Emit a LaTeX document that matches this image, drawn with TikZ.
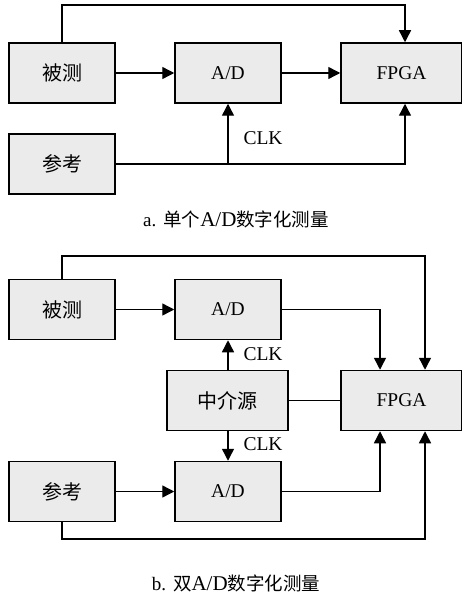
\documentclass[tikz,border=0pt]{standalone}
\usepackage{fontspec}
\setmainfont{Liberation Serif}
\newfontfamily\cjk{Noto Sans CJK SC}
\usetikzlibrary{arrows.meta}
\definecolor{boxgray}{HTML}{EBEBEB}
\newcommand\zh[1]{{\cjk\fontsize{20}{20}\selectfont #1}}
\newcommand\zhcap[1]{{\cjk\fontsize{18.5}{18.5}\selectfont #1}}
\newcommand\tag[1]{{\fontsize{19}{19}\selectfont #1}\hspace{7pt}}
\tikzset{
  blk/.style={draw, fill=boxgray, line width=1.5pt, inner sep=0pt,
    minimum width=106pt, minimum height=60pt,
    font=\fontsize{19.5}{19.5}\selectfont},
  wide/.style={blk, minimum width=121pt},
  wire/.style={line width=1.4pt},
  arr/.style={wire, -{Triangle[length=12pt,width=12pt]}},
  lbl/.style={font=\fontsize{19.5}{19.5}\selectfont, inner sep=0pt},
  captxt/.style={font=\fontsize{21}{21}\selectfont, inner sep=0pt}
}
\begin{document}
\begin{tikzpicture}[x=1pt, y=-1pt]
\useasboundingbox (0,0) rectangle (461,596);
% ---- a: single A/D ----
\node[blk]  (bc1) at (62,73)    {\zh{被测}};
\node[blk]  (ad1) at (228,73)   {A/D};
\node[wide] (fp1) at (401.5,73) {FPGA};
\node[blk]  (ck1) at (62,164)   {\zh{参考}};
\coordinate (t1) at (405,5);
\coordinate (j1) at (ad1.south |- ck1.east);
\draw[arr] (bc1.north) |- (t1) -- (t1 |- fp1.north);
\draw[arr] (bc1) -- (ad1);
\draw[arr] (ad1) -- (fp1);
\draw[wire] (ck1.east) -- (j1);
\draw[arr] (j1) -- (ad1.south);
\draw[arr] (j1) -| (t1 |- fp1.south);
\node[lbl] (clk1) at (263,138) {CLK};
\node[captxt] (capa) at (236,219) {\tag{a.}\zhcap{单个}A/D\zhcap{数字化测量}};
% ---- b: dual A/D ----
\node[blk]  (bc2) at (62,309.5)     {\zh{被测}};
\node[blk]  (ad2) at (228,309.5)    {A/D};
\node[wide] (mid) at (227.5,400.5)  {\zh{中介源}};
\node[wide] (fp2) at (401.5,400.5)  {FPGA};
\node[blk]  (ck2) at (62,491.5)     {\zh{参考}};
\node[blk]  (ad3) at (228,491.5)    {A/D};
\coordinate (t2) at (425,256);
\coordinate (b2) at (425,539);
\coordinate (xa) at (380,0);
\draw[arr] (bc2.north) |- (t2) -- (t2 |- fp2.north);
\draw[arr] (ck2.south) |- (b2) -- (b2 |- fp2.south);
\draw[arr] (bc2) -- (ad2);
\draw[arr] (ck2) -- (ad3);
\draw[arr] (ad2.east) -| (xa |- fp2.north);
\draw[arr] (ad3.east) -| (xa |- fp2.south);
\draw[arr] (mid.north -| ad2.south) -- (ad2.south);
\draw[arr] (mid.south -| ad3.north) -- (ad3.north);
\draw[wire] (mid.east) -- (fp2.west);
\node[lbl] (clk2) at (263,354) {CLK};
\node[lbl] (clk3) at (263,444) {CLK};
\node[captxt] (capb) at (236,583) {\tag{b.}\zhcap{双}A/D\zhcap{数字化测量}};
\end{tikzpicture}
\end{document}
